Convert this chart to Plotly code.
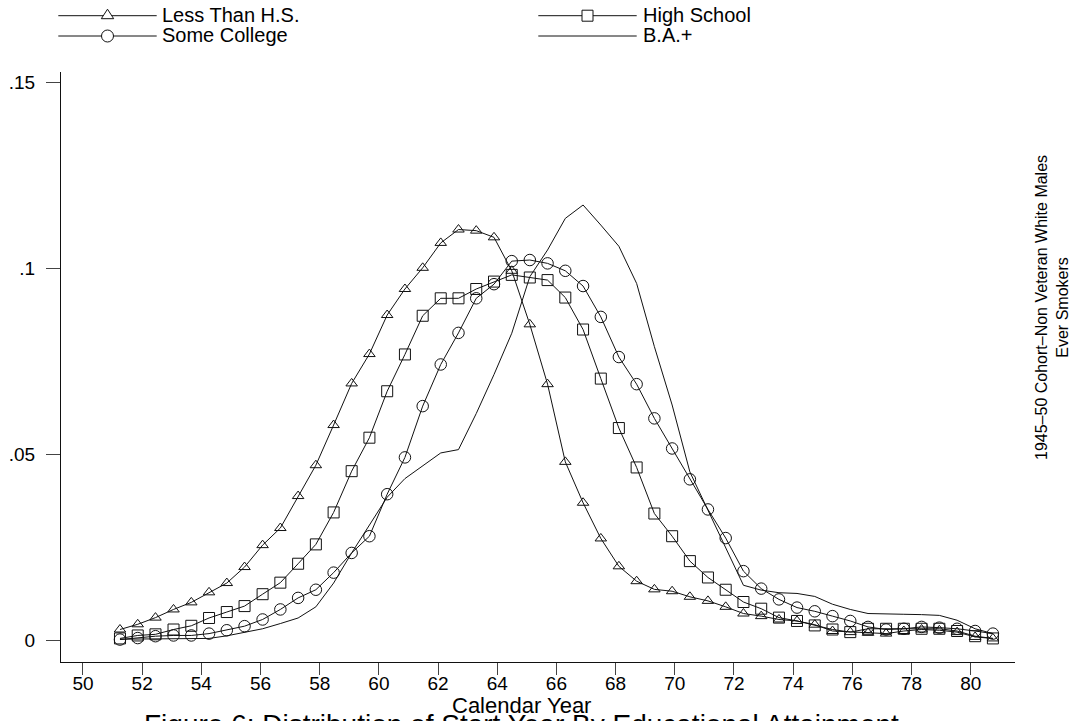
import plotly.graph_objects as go

# ---------------- data ----------------
years = [51.25, 51.85, 52.45, 53.06, 53.66, 54.26, 54.86, 55.46, 56.07, 56.67,
         57.27, 57.87, 58.47, 59.08, 59.68, 60.28, 60.88, 61.48, 62.09, 62.69,
         63.29, 63.89, 64.49, 65.10, 65.70, 66.30, 66.90, 67.50, 68.11, 68.71,
         69.31, 69.91, 70.51, 71.12, 71.72, 72.32, 72.92, 73.52, 74.13, 74.73,
         75.33, 75.93, 76.53, 77.14, 77.74, 78.34, 78.94, 79.54, 80.15, 80.75]

less_than_hs = [0.0029, 0.0043, 0.0061, 0.0083, 0.0102, 0.0129, 0.0154, 0.0197, 0.0256, 0.0302,
                0.0388, 0.0471, 0.0579, 0.0691, 0.0770, 0.0875, 0.0945, 0.1002, 0.1069, 0.1105,
                0.1102, 0.1084, 0.0994, 0.0850, 0.0689, 0.0480, 0.0370, 0.0274, 0.0199, 0.0159,
                0.0137, 0.0132, 0.0117, 0.0106, 0.0090, 0.0072, 0.0065, 0.0056, 0.0052, 0.0042,
                0.0025, 0.0022, 0.0020, 0.0018, 0.0025, 0.0029, 0.0027, 0.0022, 0.0009, 0.0005]

high_school = [0.0005, 0.0013, 0.0016, 0.0029, 0.0039, 0.0060, 0.0076, 0.0092, 0.0124, 0.0155,
               0.0206, 0.0258, 0.0344, 0.0455, 0.0545, 0.0670, 0.0769, 0.0873, 0.0920, 0.0920,
               0.0945, 0.0965, 0.0983, 0.0976, 0.0969, 0.0922, 0.0836, 0.0704, 0.0571, 0.0465,
               0.0341, 0.0280, 0.0213, 0.0169, 0.0136, 0.0103, 0.0085, 0.0061, 0.0052, 0.0040,
               0.0029, 0.0022, 0.0031, 0.0031, 0.0031, 0.0031, 0.0031, 0.0025, 0.0011, 0.0005]

some_college = [0.0002, 0.0006, 0.0011, 0.0013, 0.0013, 0.0018, 0.0027, 0.0038, 0.0056, 0.0083,
                0.0114, 0.0136, 0.0182, 0.0235, 0.0280, 0.0393, 0.0492, 0.0630, 0.0742, 0.0827,
                0.0920, 0.0958, 0.1020, 0.1023, 0.1014, 0.0994, 0.0953, 0.0870, 0.0762, 0.0689,
                0.0597, 0.0516, 0.0433, 0.0352, 0.0275, 0.0186, 0.0139, 0.0110, 0.0088, 0.0078,
                0.0065, 0.0052, 0.0036, 0.0029, 0.0031, 0.0036, 0.0034, 0.0031, 0.0025, 0.0018]

ba_plus = [0.0003, 0.0003, 0.0003, 0.0003, 0.0004, 0.0005, 0.0012, 0.0021, 0.0031, 0.0045,
           0.0060, 0.0090, 0.0154, 0.0235, 0.0310, 0.0385, 0.0435, 0.0470, 0.0504, 0.0513,
           0.0610, 0.0715, 0.0826, 0.0978, 0.1050, 0.1135, 0.1171, 0.1117, 0.1060, 0.0960,
           0.0790, 0.0633, 0.0453, 0.0350, 0.0251, 0.0148, 0.0135, 0.0128, 0.0126, 0.0118,
           0.0097, 0.0083, 0.0072, 0.0072, 0.0070, 0.0069, 0.0067, 0.0054, 0.0031, 0.0018]

x_tick_vals = [50, 52, 54, 56, 58, 60, 62, 64, 66, 68, 70, 72, 74, 76, 78, 80]
y_tick_vals = [0, 0.05, 0.10, 0.15]
y_tick_text = ["0", ".05", ".1", ".15"]

series_names = ["Less Than H.S.", "High School", "Some College", "B.A.+"]
x_title = "Calendar Year"
caption = "Figure 6: Distribution of Start Year By Educational Attainment"
side_text = "1945\u201350 Cohort\u2013Non Veteran White Males<br>Ever Smokers"

# ---------------- layout helpers ----------------
W, H = 1078, 721
ML, MR, MT, MB = 61, 63, 72, 59
PW = W - ML - MR
PH = H - MT - MB


def px(x):
    return (x - ML) / PW


def py(y):
    return (H - MB - y) / PH


FONT = "Liberation Sans, Arial, Helvetica, sans-serif"
INK = "#111111"

fig = go.Figure()
line_style = dict(color=INK, width=1)

fig.add_trace(go.Scatter(
    x=years, y=less_than_hs, mode="lines+markers", name=series_names[0],
    line=line_style,
    marker=dict(symbol="triangle-up-open", size=10, color=INK, line=dict(width=1, color=INK))))
fig.add_trace(go.Scatter(
    x=years, y=high_school, mode="lines+markers", name=series_names[1],
    line=line_style,
    marker=dict(symbol="square-open", size=11, color=INK, line=dict(width=1, color=INK))))
fig.add_trace(go.Scatter(
    x=years, y=some_college, mode="lines+markers", name=series_names[2],
    line=line_style,
    marker=dict(symbol="circle-open", size=11.5, color=INK, line=dict(width=1, color=INK))))
fig.add_trace(go.Scatter(
    x=years, y=ba_plus, mode="lines", name=series_names[3],
    line=line_style))

# ---------------- manual legend ----------------
shapes = []
annotations = []
legend_rows = [15.7, 36.0]
legend_cols = [(58.3, 156.7, 160.0), (538.3, 636.7, 640.5)]
legend_items = [
    (0, 0, series_names[0], "triangle"),
    (1, 0, series_names[1], "square"),
    (0, 1, series_names[2], "circle"),
    (1, 1, series_names[3], None),
]
for col, row, label, sym in legend_items:
    x0, x1, xt = legend_cols[col]
    yy = legend_rows[row]
    shapes.append(dict(type="line", xref="paper", yref="paper",
                       x0=px(x0), x1=px(x1), y0=py(yy), y1=py(yy),
                       line=dict(color=INK, width=1)))
    xc = px((x0 + x1) / 2)
    yc = py(yy)
    if sym == "triangle":
        shapes.append(dict(type="path", xref="paper", yref="paper",
                           xsizemode="pixel", ysizemode="pixel",
                           xanchor=xc, yanchor=yc,
                           path="M-6.2,-3 L6.2,-3 L0,6.5 Z",
                           fillcolor="white", line=dict(color=INK, width=1)))
    elif sym == "square":
        shapes.append(dict(type="rect", xref="paper", yref="paper",
                           xsizemode="pixel", ysizemode="pixel",
                           xanchor=xc, yanchor=yc, x0=-5.5, x1=5.5, y0=-5.5, y1=5.5,
                           fillcolor="white", line=dict(color=INK, width=1)))
    elif sym == "circle":
        shapes.append(dict(type="circle", xref="paper", yref="paper",
                           xsizemode="pixel", ysizemode="pixel",
                           xanchor=xc, yanchor=yc, x0=-6, x1=6, y0=-6, y1=6,
                           fillcolor="white", line=dict(color=INK, width=1)))
    annotations.append(dict(text=label, xref="paper", yref="paper",
                            x=px(xt), y=py(yy - 1), xanchor="left", yanchor="middle",
                            showarrow=False, font=dict(size=20, color="black", family=FONT)))

# side text, axis title, caption
annotations.append(dict(text=side_text, xref="paper", yref="paper",
                        x=px(1052), y=py(308), xanchor="center", yanchor="middle",
                        textangle=-90, showarrow=False, align="center",
                        font=dict(size=16, color="black", family=FONT)))
annotations.append(dict(text=x_title, xref="paper", yref="paper",
                        x=px(521), y=py(705.5), xanchor="center", yanchor="middle",
                        showarrow=False, font=dict(size=22, color="black", family=FONT)))
annotations.append(dict(text=caption, xref="paper", yref="paper",
                        x=px(521), y=py(724.5), xanchor="center", yanchor="middle",
                        showarrow=False, font=dict(size=28, color="black", family=FONT)))

fig.update_layout(
    width=W, height=H,
    margin=dict(l=ML, r=MR, t=MT, b=MB, autoexpand=False),
    paper_bgcolor="white", plot_bgcolor="white",
    showlegend=False,
    font=dict(family=FONT, color="black"),
    shapes=shapes, annotations=annotations,
    xaxis=dict(range=[49.257, 81.497], tickvals=x_tick_vals,
               automargin=False,
               showgrid=False, zeroline=False,
               showline=True, linecolor=INK, linewidth=1,
               ticks="outside", ticklen=12, tickcolor="#444444", tickwidth=1,
               ticklabelstandoff=-8,
               tickfont=dict(size=19, family=FONT, color="black")),
    yaxis=dict(range=[-0.00584, 0.15288], tickvals=y_tick_vals, ticktext=y_tick_text,
               automargin=False,
               showgrid=False, zeroline=False,
               showline=True, linecolor=INK, linewidth=1,
               ticks="outside", ticklen=14, tickcolor="#444444", tickwidth=1,
               ticklabelstandoff=7,
               tickfont=dict(size=19, family=FONT, color="black")),
)

fig.write_html("out.html")
